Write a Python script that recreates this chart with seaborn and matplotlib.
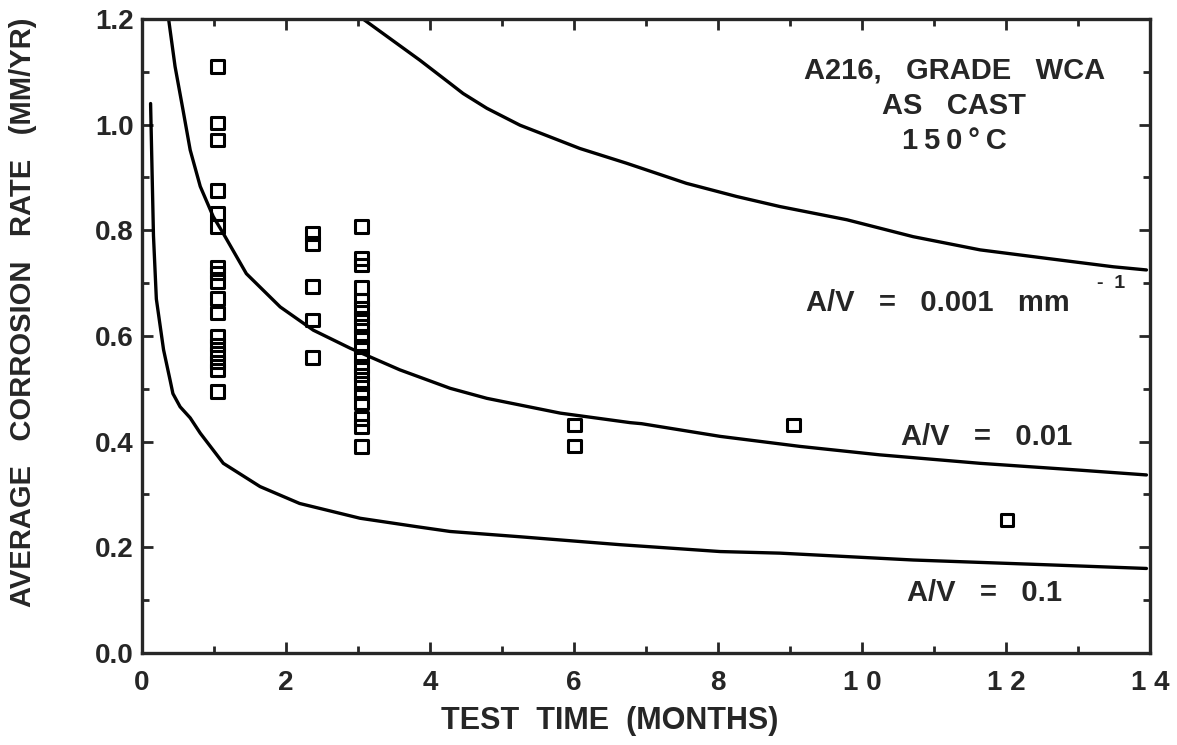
import numpy as np
import pandas as pd
import matplotlib
matplotlib.use("Agg")
import matplotlib.pyplot as plt
from matplotlib.ticker import MultipleLocator
import seaborn as sns

# model curves (months vs mm/yr)
av_01_time = [0.12, 0.16, 0.20, 0.30, 0.39, 0.43, 0.53, 0.67, 0.81, 1.13, 1.64, 2.19,
              3.03, 3.82, 4.28, 5.25, 6.64, 8.03, 8.86, 10.71, 12.56, 13.95]
av_01_rate = [1.04, 0.79, 0.67, 0.574, 0.517, 0.491, 0.466, 0.445, 0.416, 0.359, 0.315, 0.283,
              0.255, 0.239, 0.230, 0.220, 0.205, 0.192, 0.189, 0.176, 0.167, 0.160]

av_001_time = [0.37, 0.46, 0.57, 0.67, 0.81, 0.99, 1.13, 1.45, 1.92, 2.38, 2.89, 3.58,
               4.28, 4.79, 5.81, 6.78, 6.94, 8.03, 9.14, 10.25, 11.64, 13.03, 13.95]
av_001_rate = [1.20, 1.11, 1.028, 0.952, 0.883, 0.826, 0.794, 0.718, 0.655, 0.611, 0.577, 0.536,
               0.501, 0.482, 0.454, 0.436, 0.434, 0.410, 0.391, 0.375, 0.359, 0.346, 0.337]

av_0001_time = [3.07, 3.86, 4.28, 4.46, 4.79, 5.25, 6.08, 6.73, 7.56, 8.26, 8.86, 9.79,
                10.71, 11.64, 12.56, 13.49, 13.95]
av_0001_rate = [1.20, 1.122, 1.078, 1.059, 1.031, 0.999, 0.955, 0.927, 0.889, 0.864, 0.845, 0.820,
                0.788, 0.763, 0.747, 0.731, 0.725]

# measured coupons
test_times = [1.05, 2.37, 3.05, 6.01, 9.05, 12.01]
rate_1mo = [1.11, 1.003, 0.971, 0.875, 0.832, 0.807, 0.731, 0.719, 0.703, 0.671, 0.643,
            0.599, 0.583, 0.567, 0.551, 0.536, 0.495]
rate_2mo = [0.794, 0.775, 0.694, 0.630, 0.559]
rate_3mo = [0.807, 0.747, 0.734, 0.692, 0.668, 0.652, 0.634, 0.618, 0.599, 0.580, 0.561,
            0.542, 0.526, 0.510, 0.492, 0.473, 0.444, 0.429, 0.391]
rate_6mo = [0.432, 0.392]
rate_9mo = [0.432]
rate_12mo = [0.252]

x_tick_labels = ["0", "2", "4", "6", "8", "1 0", "1 2", "1 4"]

groups = [rate_1mo, rate_2mo, rate_3mo, rate_6mo, rate_9mo, rate_12mo]
points = pd.DataFrame({
    "months": np.concatenate([[t] * len(g) for t, g in zip(test_times, groups)]),
    "rate": np.concatenate(groups),
})

sns.set_style("ticks")
plt.rcParams['font.family'] = ['Liberation Sans', 'DejaVu Sans']
plt.rcParams['font.weight'] = 'bold'

fig = plt.figure(figsize=(11.77, 7.45), dpi=100)
ax = fig.add_axes([0.1206, 0.1235, 0.8565, 0.851])

for t, r in [(av_01_time, av_01_rate), (av_001_time, av_001_rate), (av_0001_time, av_0001_rate)]:
    sns.lineplot(x=t, y=r, ax=ax, color="black", lw=2.4, sort=False, estimator=None)

sns.scatterplot(data=points, x="months", y="rate", ax=ax, marker="s", s=80,
                facecolor="none", edgecolor="black", linewidth=2.2, zorder=3)

ax.set_xlim(0, 14)
ax.set_ylim(0, 1.2)
ax.xaxis.set_minor_locator(MultipleLocator(1))
ax.yaxis.set_minor_locator(MultipleLocator(0.1))
ax.set_xticks(np.arange(0, 15, 2))
ax.set_xticklabels(x_tick_labels)
ax.set_yticks(np.arange(0, 1.21, 0.2))
ax.set_yticklabels([f"{v:.1f}" for v in np.arange(0, 1.21, 0.2)])
ax.tick_params(which="both", direction="in", top=True, right=True, width=2)
ax.tick_params(which="major", length=8)
ax.tick_params(which="minor", length=5)
ax.tick_params(axis="x", pad=12, labelsize=20)
ax.tick_params(axis="y", pad=6, labelsize=20)
for lab in ax.get_xticklabels() + ax.get_yticklabels():
    lab.set_fontweight("bold")
for sp in ax.spines.values():
    sp.set_linewidth(2.4)

ax.set_xlabel("TEST  TIME  (MONTHS)", fontsize=22, fontweight="bold")
ax.set_ylabel("AVERAGE   CORROSION   RATE   (MM/YR)", fontsize=21, fontweight="bold")
ax.xaxis.set_label_coords(0.464, -0.084)
ax.yaxis.set_label_coords(-0.104, 0.538)

txt = dict(fontsize=21, fontweight="bold", va="center")
ax.text(11.28, 1.102, "A216,   GRADE   WCA", ha="center", **txt)
ax.text(11.28, 1.035, "AS   CAST", ha="center", **txt)
ax.text(11.28, 0.969, "1\u20095\u20090\u2009°\u2009C", ha="center", **txt)
ax.text(9.22, 0.6625, "A/V   =   0.001   mm", ha="left", **txt)
ax.text(13.26, 0.699, "-  1", ha="left", fontsize=14, fontweight="bold", va="center")
ax.text(10.54, 0.409, "A/V   =   0.01", ha="left", **txt)
ax.text(10.62, 0.113, "A/V   =   0.1", ha="left", **txt)

fig.savefig("out.png", dpi=100)
